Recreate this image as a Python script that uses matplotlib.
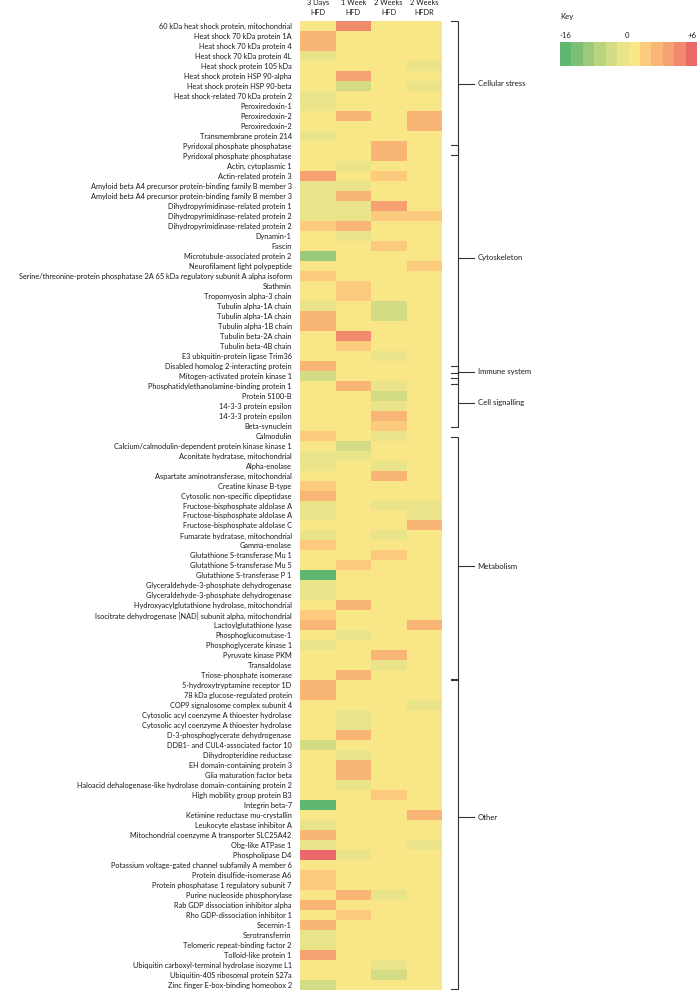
import matplotlib.pyplot as plt
import numpy as np
from matplotlib.colors import BoundaryNorm, ListedColormap

plt.rcParams["font.family"] = ["Lato", "DejaVu Sans"]

# ---- data (fold change) ----
proteins = [
    "60 kDa heat shock protein, mitochondrial",
    "Heat shock 70 kDa protein 1A",
    "Heat shock 70 kDa protein 4",
    "Heat shock 70 kDa protein 4L",
    "Heat shock protein 105 kDa",
    "Heat shock protein HSP 90-alpha",
    "Heat shock protein HSP 90-beta",
    "Heat shock-related 70 kDa protein 2",
    "Peroxiredoxin-1",
    "Peroxiredoxin-2",
    "Peroxiredoxin-2",
    "Transmembrane protein 214",
    "Pyridoxal phosphate phosphatase",
    "Pyridoxal phosphate phosphatase",
    "Actin, cytoplasmic 1",
    "Actin-related protein 3",
    "Amyloid beta A4 precursor protein-binding family B member 3",
    "Amyloid beta A4 precursor protein-binding family B member 3",
    "Dihydropyrimidinase-related protein 1",
    "Dihydropyrimidinase-related protein 2",
    "Dihydropyrimidinase-related protein 2",
    "Dynamin-1",
    "Fascin",
    "Microtubule-associated protein 2",
    "Neurofilament light polypeptide",
    "Serine/threonine-protein phosphatase 2A 65 kDa regulatory subunit A alpha isoform",
    "Stathmin",
    "Tropomyosin alpha-3 chain",
    "Tubulin alpha-1A chain",
    "Tubulin alpha-1A chain",
    "Tubulin alpha-1B chain",
    "Tubulin beta-2A chain",
    "Tubulin beta-4B chain",
    "E3 ubiquitin-protein ligase Trim36",
    "Disabled homolog 2-interacting protein",
    "Mitogen-activated protein kinase 1",
    "Phosphatidylethanolamine-binding protein 1",
    "Protein S100-B",
    "14-3-3 protein epsilon",
    "14-3-3 protein epsilon",
    "Beta-synuclein",
    "Calmodulin",
    "Calcium/calmodulin-dependent protein kinase kinase 1",
    "Aconitate hydratase, mitochondrial",
    "Alpha-enolase",
    "Aspartate aminotransferase, mitochondrial",
    "Creatine kinase B-type",
    "Cytosolic non-specific dipeptidase",
    "Fructose-bisphosphate aldolase A",
    "Fructose-bisphosphate aldolase A",
    "Fructose-bisphosphate aldolase C",
    "Fumarate hydratase, mitochondrial",
    "Gamma-enolase",
    "Glutathione S-transferase Mu 1",
    "Glutathione S-transferase Mu 5",
    "Glutathione S-transferase P 1",
    "Glyceraldehyde-3-phosphate dehydrogenase",
    "Glyceraldehyde-3-phosphate dehydrogenase",
    "Hydroxyacylglutathione hydrolase, mitochondrial",
    "Isocitrate dehydrogenase [NAD] subunit alpha, mitochondrial",
    "Lactoylglutathione lyase",
    "Phosphoglucomutase-1",
    "Phosphoglycerate kinase 1",
    "Pyruvate kinase PKM",
    "Transaldolase",
    "Triose-phosphate isomerase",
    "5-hydroxytryptamine receptor 1D",
    "78 kDa glucose-regulated protein",
    "COP9 signalosome complex subunit 4",
    "Cytosolic acyl coenzyme A thioester hydrolase",
    "Cytosolic acyl coenzyme A thioester hydrolase",
    "D-3-phosphoglycerate dehydrogenase",
    "DDB1- and CUL4-associated factor 10",
    "Dihydropteridine reductase",
    "EH domain-containing protein 3",
    "Glia maturation factor beta",
    "Haloacid dehalogenase-like hydrolase domain-containing protein 2",
    "High mobility group protein B3",
    "Integrin beta-7",
    "Ketimine reductase mu-crystallin",
    "Leukocyte elastase inhibitor A",
    "Mitochondrial coenzyme A transporter SLC25A42",
    "Obg-like ATPase 1",
    "Phospholipase D4",
    "Potassium voltage-gated channel subfamily A member 6",
    "Protein disulfide-isomerase A6",
    "Protein phosphatase 1 regulatory subunit 7",
    "Purine nucleoside phosphorylase",
    "Rab GDP dissociation inhibitor alpha",
    "Rho GDP-dissociation inhibitor 1",
    "Secernin-1",
    "Serotransferrin",
    "Telomeric repeat-binding factor 2",
    "Tolloid-like protein 1",
    "Ubiquitin carboxyl-terminal hydrolase isozyme L1",
    "Ubiquitin-40S ribosomal protein S27a",
    "Zinc finger E-box-binding homeobox 2",
]

conditions = ["3 Days\nHFD", "1 Week\nHFD", "2 Weeks\nHFD", "2 Weeks\nHFDR"]

days3_hfd = [
    0, 2.5, 2.5, -1.5, 0, 0, 0, -1.5, -1.5, 0, 0, -1.5, 0, 0, 0, 3.5,
    -1.5, -1.5, -1.5, -1.5, 1.5, 0, 0, -9.5, 0, 1.5, 0, 0, -1.5, 2.5, 2.5, 0,
    0, 0, 2.5, -4, 0, 0, 0, 0, 0, 1.5, 0, -1.5, -1.5, 0, 1.5, 2.5,
    -1.5, -1.5, 0, -1.5, 1.5, 0, 0, -15, -1.5, -1.5, 0, 1.5, 2.5, 0, -1.5, 0,
    0, 0, 2.5, 2.5, 0, 0, 0, 0, -4, 0, 0, 0, 0, 0, -15, 0,
    -1.5, 2.5, -1.5, 5.5, 0, 1.5, 1.5, 0, 2.5, 0, 2.5, -1.5, -1.5, 3.5, 0, 0,
    -4,
]
week1_hfd = [
    4.5, 0, 0, 0, 0, 3.5, -4, 0, 0, 2.5, 0, 0, 0, 0, -1.5, 0,
    -1.5, 2.5, -1.5, -1.5, 2.5, -1.5, 0, 0, 0, 0, 1.5, 1.5, 0, 0, 0, 4.5,
    1.5, 0, 0, 0, 2.5, 0, 0, 0, 0, 0, -4, -1.5, 0, 0, 0, 0,
    0, 0, 0, 0, 0, 0, 1.5, 0, 0, 0, 2.5, 0, 0, -1.5, 0, 0,
    0, 2.5, 0, 0, 0, -1.5, -1.5, 2.5, 0, -1.5, 2.5, 2.5, -1.5, 0, 0, 0,
    0, 0, 0, -1.5, 0, 0, 0, 2.5, 0, 1.5, 0, 0, 0, 0, 0, 0,
    0,
]
weeks2_hfd = [
    0, 0, 0, 0, 0, 0, 0, 0, 0, 0, 0, 0, 2.5, 2.5, 0, 1.5,
    0, 0, 3.5, 1.5, 0, 0, 1.5, 0, 0, 0, 0, 0, -4, -4, 0, 0,
    0, -1.5, 0, 0, -1.5, -4, -1.5, 2.5, 1.5, -1.5, 0, 0, -1.5, 2.5, 0, 0,
    -1.5, 0, 0, -1.5, 0, 1.5, 0, 0, 0, 0, 0, 0, 0, 0, 0, 2.5,
    -1.5, 0, 0, 0, 0, 0, 0, 0, 0, 0, 0, 0, 0, 1.5, 0, 0,
    0, 0, 0, 0, 0, 0, 0, -1.5, 0, 0, 0, 0, 0, 0, -1.5, -4,
    0,
]
weeks2_hfdr = [
    0, 0, 0, 0, -1.5, 0, -1.5, 0, 0, 2.5, 2.5, 0, 0, 0, 0, 0,
    0, 0, 0, 1.5, 0, 0, 0, 0, 1.5, 0, 0, 0, 0, 0, 0, 0,
    0, 0, 0, 0, 0, 0, 0, 0, 0, 0, 0, 0, 0, 0, 0, 0,
    -1.5, -1.5, 2.5, 0, 0, 0, 0, 0, 0, 0, 0, 0, 2.5, 0, 0, 0,
    0, 0, 0, 0, -1.5, 0, 0, 0, 0, 0, 0, 0, 0, 0, 0, 2.5,
    0, 0, -1.5, 0, 0, 0, 0, 0, 0, 0, 0, 0, 0, 0, 0, 0,
    0,
]

# functional groups: name, bracket top, bracket bottom, label row (in row units)
group_names = ["Cellular stress", "Cytoskeleton", "Immune system",
               "Cell signalling", "Metabolism", "Other"]
group_top = [0.0, 12.4, 34.5, 35.7, 41.6, 65.9]
group_bottom = [13.4, 35.2, 36.3, 40.6, 66.0, 96.9]
group_label = [6.3, 23.7, 35.1, 38.2, 54.6, 79.7]

key_colors = [
    "#5fb66f", "#7dbf77", "#9cc97b", "#b9d37f", "#d3dc84", "#e9e389",
    "#f9e687", "#fbca7c", "#f8b576", "#f5a172", "#f08a6d", "#ea686a",
]
key_bounds = [-16, -13.33, -10.67, -8, -5.33, -2.67, 0, 1, 2, 3, 4, 5, 6]

cmap = ListedColormap(key_colors)
norm = BoundaryNorm(key_bounds, cmap.N)

data = np.array([days3_hfd, week1_hfd, weeks2_hfd, weeks2_hfdr]).T
n_rows = len(proteins)

fig = plt.figure(figsize=(7, 9.92), dpi=100)
ax = fig.add_axes([300 / 700, 1 - 990 / 992, 142 / 700, 969 / 992])

ax.pcolormesh(np.arange(5), np.arange(n_rows + 1), data, cmap=cmap, norm=norm)
ax.set_xlim(0, 4)
ax.set_ylim(n_rows, 0)

ax.set_yticks(np.arange(n_rows) + 0.5)
ax.set_yticklabels(proteins, fontsize=5.3, color="#1a1a1a")
ax.tick_params(axis="y", length=0, pad=6)
ax.set_xticks([])
for s in ax.spines.values():
    s.set_visible(False)

# column headers
for i, c in enumerate(conditions):
    ax.text(i + 0.5, -0.5, c, ha="center", va="bottom", fontsize=5.3,
            color="#1a1a1a", linespacing=1.45)

# brackets on the right
bx = 4.45
for name, top, bottom, lab in zip(group_names, group_top, group_bottom, group_label):
    ax.plot([bx - 0.2, bx, bx, bx - 0.2], [top, top, bottom, bottom],
            color="#333333", lw=0.8, clip_on=False, solid_joinstyle="miter")
    ax.plot([bx, bx + 0.45], [lab, lab], color="#333333", lw=0.8, clip_on=False)
    ax.text(bx + 0.55, lab, name, ha="left", va="center", fontsize=5.6,
            color="#1a1a1a")

# key
kax = fig.add_axes([560 / 700, 1 - 66 / 992, 137 / 700, 24 / 992])
kax.pcolormesh(np.arange(13), [0, 1], np.arange(12)[None, :] + 0.5,
               cmap=ListedColormap(key_colors), vmin=0, vmax=12)
kax.set_xlim(0, 12)
kax.axis("off")
fig.text(560 / 700, 1 - 17 / 992, "Key", ha="left", va="center", fontsize=5.6, color="#1a1a1a")
fig.text(560 / 700, 1 - 35 / 992, "-16", ha="left", va="center", fontsize=5.6, color="#1a1a1a")
fig.text(627 / 700, 1 - 35 / 992, "0", ha="center", va="center", fontsize=5.6, color="#1a1a1a")
fig.text(697 / 700, 1 - 35 / 992, "+6", ha="right", va="center", fontsize=5.6, color="#1a1a1a")

fig.savefig("out.png", dpi=100)
